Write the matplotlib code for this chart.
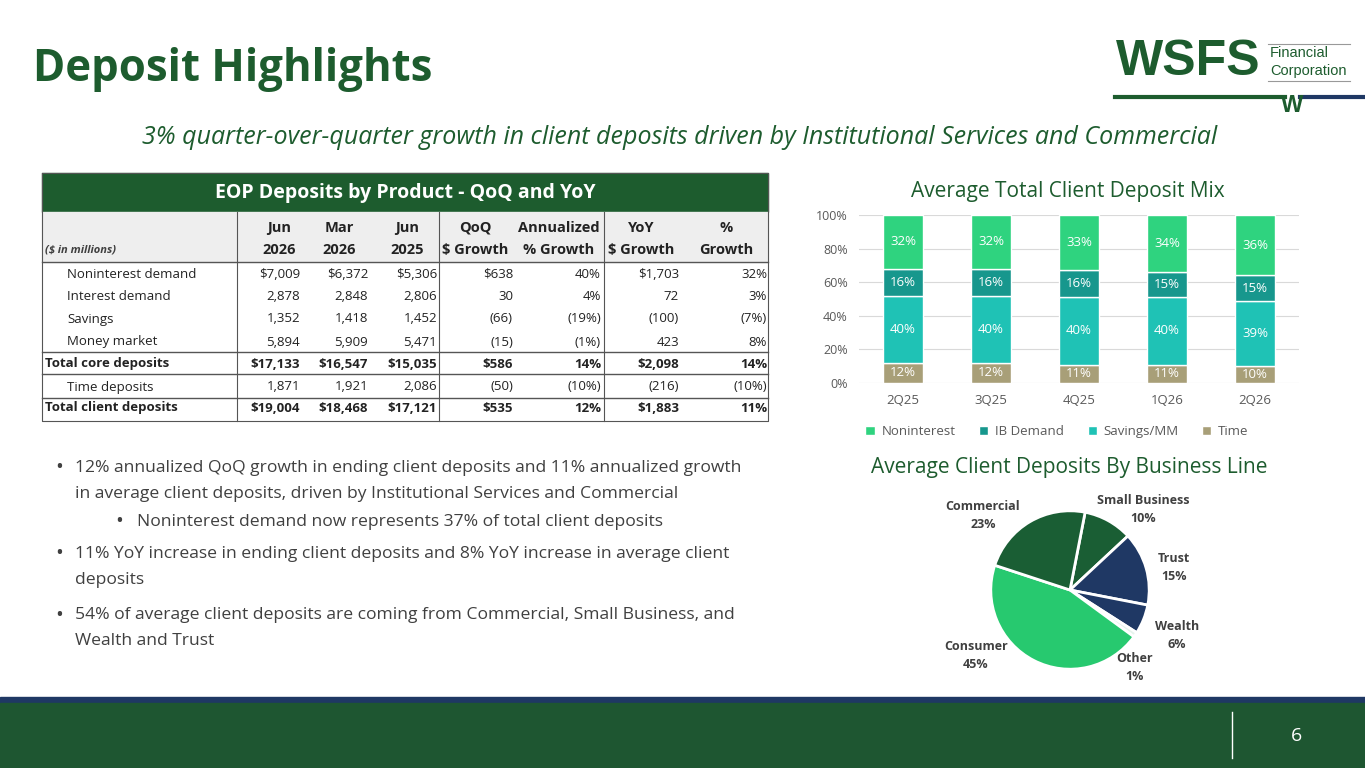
import matplotlib.pyplot as plt
from matplotlib.patches import Rectangle

GREEN="#1d5c2e"
DARK="#404040"
quarters=["2Q25","3Q25","4Q25","1Q26","2Q26"]
TIME=[12,12,11,11,10]
SAVINGS=[40,40,40,40,39]
IBDEMAND=[16,16,16,15,15]
NONINT=[32,32,33,34,36]
lines=["Noninterest demand","Interest demand","Savings","Money market","Total core deposits","Time deposits","Total client deposits"]
JUN26=["$7,009","2,878","1,352","5,894","$17,133","1,871","$19,004"]
MAR26=["$6,372","2,848","1,418","5,909","$16,547","1,921","$18,468"]
JUN25=["$5,306","2,806","1,452","5,471","$15,035","2,086","$17,121"]
QOQ=["$638","30","(66)","(15)","$586","(50)","$535"]
ANN=["40%","4%","(19%)","(1%)","14%","(10%)","12%"]
YOY=["$1,703","72","(100)","423","$2,098","(216)","$1,883"]
PCT=["32%","3%","(7%)","8%","14%","(10%)","11%"]
lob=["Small Business","Trust","Wealth","Other","Consumer","Commercial"]
lob_pct=[10,15,6,1,45,23]

plt.rcParams['font.family']=['Open Sans','DejaVu Sans']
fig=plt.figure(figsize=(13.65,7.68),dpi=100)

# page canvas in pixel coordinates
page=plt.axes([0,0,1,1])
plt.xlim(0,1365)
plt.ylim(768,0)
plt.axis('off')
plt.text(33,70,"Deposit Highlights",fontsize=31.5,fontweight='bold',color=GREEN,va='center')
# logo
plt.text(1116,62,"WSFS",fontsize=36,fontweight='black',color=GREEN,va='center',family=['Liberation Sans'])
plt.plot([1268,1350],[44,44],color='#999999',lw=0.8)
plt.plot([1268,1350],[81,81],color='#999999',lw=0.8)
plt.text(1270,53,"Financial",fontsize=10.5,color=GREEN,va='center',family=['Liberation Sans'])
plt.text(1270,71,"Corporation",fontsize=10.5,color=GREEN,va='center',family=['Liberation Sans'])
plt.plot([1115,1285],[97,97],color=GREEN,lw=3)
plt.plot([1300,1365],[97,97],color="#1f3864",lw=3)
plt.text(1292,105,"W",fontsize=17,fontweight='black',color=GREEN,ha='center',va='center',family=['Liberation Sans'])
plt.text(680,138,"3% quarter-over-quarter growth in client deposits driven by Institutional Services and Commercial",
         fontsize=18,style='italic',color=GREEN,ha='center',va='center')

# table
page.add_patch(Rectangle((42,173),726,39,color=GREEN))
plt.text(405,193,"EOP Deposits by Product - QoQ and YoY",fontsize=14,fontweight='bold',color='white',ha='center',va='center')
page.add_patch(Rectangle((42,212),726,50,color="#eeeeee"))
plt.plot([42,768,768,42,42],[173,173,421,421,173],color="#555555",lw=0.8)
plt.text(45,250,"($ in millions)",fontsize=8,style='italic',fontweight='bold',color=DARK,va='center')
heads=[("Jun","2026"),("Mar","2026"),("Jun","2025"),("QoQ","$ Growth"),("Annualized","% Growth"),("YoY","$ Growth"),("%","Growth")]
hx=[279,339,407,475,559,641,726]
for (a,b),x in zip(heads,hx):
    plt.text(x,228,a,fontsize=10.5,fontweight='bold',color='#222222',ha='center',va='center')
    plt.text(x,250,b,fontsize=10.5,fontweight='bold',color='#222222',ha='center',va='center')
plt.plot([42,768],[262,262],color="#555555",lw=1)
rows_y=[274,297,319,342,364,387,408]
cols=[JUN26,MAR26,JUN25,QOQ,ANN,YOY,PCT]
cx=[300,368,437,513,601,679,767]
for i,name in enumerate(lines):
    bold='Total' in name
    plt.text(45 if bold else 67,rows_y[i],name,fontsize=9.5,fontweight='bold' if bold else 'normal',color='#222222',va='center')
    for col,x in zip(cols,cx):
        plt.text(x,rows_y[i],col[i],fontsize=9.5,fontweight='bold' if bold else 'normal',color='#222222',ha='right',va='center')
for y in [352,374,398]:
    plt.plot([42,768],[y,y],color="#555555",lw=1)
for x in [237,439,604]:
    plt.plot([x,x],[212,421],color="#555555",lw=0.8)

# bullets
bullets=[(55,468,"•"),(75,468,"12% annualized QoQ growth in ending client deposits and 11% annualized growth"),
         (75,494,"in average client deposits, driven by Institutional Services and Commercial"),
         (115,522,"•"),(137,522,"Noninterest demand now represents 37% of total client deposits"),
         (55,554,"•"),(75,554,"11% YoY increase in ending client deposits and 8% YoY increase in average client"),
         (75,580,"deposits"),(55,615,"•"),(75,615,"54% of average client deposits are coming from Commercial, Small Business, and"),
         (75,641,"Wealth and Trust")]
for x,y,t in bullets:
    plt.text(x,y,t,fontsize=15 if t=="•" else 12.6,color=DARK,va='center')

plt.text(1068,192,"Average Total Client Deposit Mix",fontsize=15,color=GREEN,ha='center',va='center')
plt.text(1069,467,"Average Client Deposits By Business Line",fontsize=15,color=GREEN,ha='center',va='center')

# footer
page.add_patch(Rectangle((0,697),1365,6,color="#1f3864"))
page.add_patch(Rectangle((0,703),1365,65,color="#1e5631"))
plt.plot([1232,1232],[712,758],color='white',lw=1)
plt.text(1297,736,"6",fontsize=14,color='white',ha='center',va='center')

# stacked bar chart
bar_ax=plt.axes([859/1365,1-383/768,440/1365,168/768])
x=range(len(quarters))
series=[(TIME,"Time","#a89f78"),(SAVINGS,"Savings/MM","#1fc2b5"),(IBDEMAND,"IB Demand","#17978d"),(NONINT,"Noninterest","#2fd37f")]
bottom=[0]*5
for vals,name,c in series:
    plt.bar(x,vals,0.45,bottom=bottom,color=c,edgecolor='white',linewidth=1,label=name,zorder=3)
    for i,v in enumerate(vals):
        plt.text(i,bottom[i]+v/2,f"{v}%",color='white',fontsize=9.5,ha='center',va='center',zorder=4)
    bottom=[b+v for b,v in zip(bottom,vals)]
plt.ylim(0,100)
plt.xlim(-0.5,4.5)
plt.yticks(range(0,101,20),[f"{v}%" for v in range(0,101,20)],fontsize=9,color='#595959')
plt.xticks(list(x),quarters,fontsize=9.5,color='#595959')
plt.grid(axis='y',color='#d9d9d9',zorder=0)
plt.tick_params(length=0,pad=8)
for s in bar_ax.spines.values():
    s.set_visible(False)
h,l=bar_ax.get_legend_handles_labels()
plt.legend(h[::-1],l[::-1],loc='upper center',bbox_to_anchor=(0.45,-0.18),ncol=4,frameon=False,fontsize=9.5,
           handlelength=0.7,handleheight=0.7,labelcolor='#595959',columnspacing=1.8,handletextpad=0.5)

# pie chart
pie_ax=plt.axes([(1070-90)/1365,1-(590+90)/768,180/1365,180/768])
pie_colors=["#1a5e34","#1f3864","#1f3864","#e6f4ec","#27c96f","#1a5e34"]
plt.pie(lob_pct,colors=pie_colors,startangle=79,counterclock=False,radius=0.88,
        wedgeprops=dict(edgecolor='white',linewidth=2))
plt.xlim(-1,1)
plt.ylim(-1,1)
label_pos=[(1143,510),(1174,568),(1177,636),(1135,668),(976,656),(983,516)]
for (lx,ly),n,p in zip(label_pos,lob,lob_pct):
    page.text(lx,ly,f"{n}\n{p}%",fontsize=9,fontweight='bold',color='#404040',ha='center',va='center',linespacing=1.5)

plt.savefig("out.png",dpi=100)
